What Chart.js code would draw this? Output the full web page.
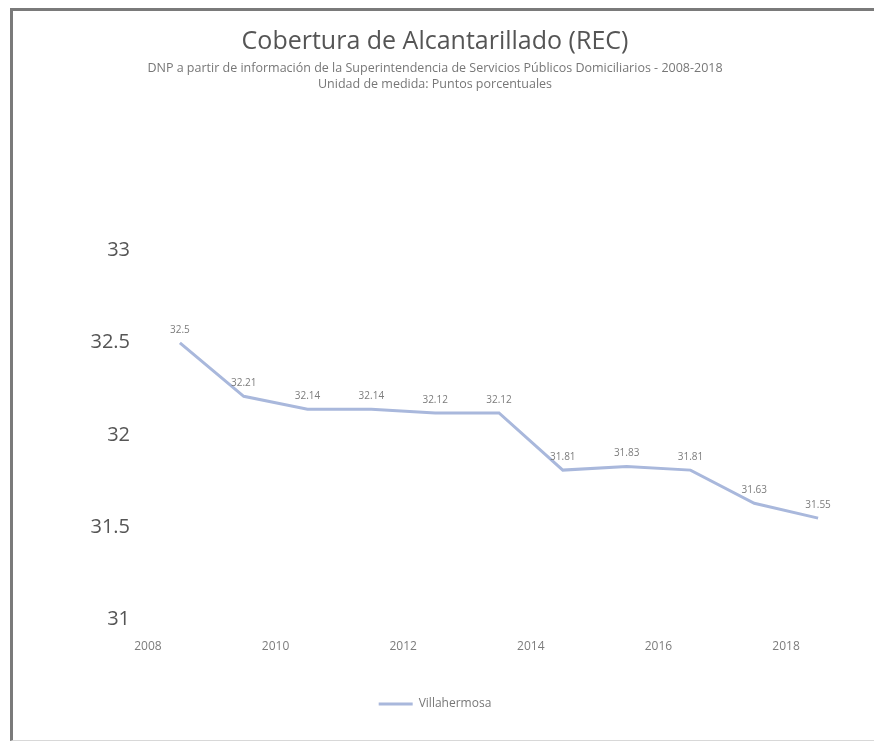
<!DOCTYPE html>
<html>
<head>
<meta charset="utf-8">
<script src="https://cdn.jsdelivr.net/npm/chart.js@4.4.1/dist/chart.umd.min.js"></script>
<style>
  html, body { margin: 0; padding: 0; background: #fff; }
  #wrap { position: relative; width: 874px; height: 747px; }
  #frame {
    position: absolute; left: 10px; top: 8px; right: -4px; bottom: 6px;
    border-left: 3px solid #7a7a7a; border-top: 3px solid #7a7a7a;
    border-bottom: 1px solid #d8d8d8; pointer-events: none;
  }
</style>
</head>
<body>
<div id="wrap">
  <canvas id="chart" width="874" height="747"></canvas>
  <div id="frame"></div>
</div>
<script>
// Cobertura de Alcantarillado (REC) — Villahermosa, 2008-2018
const years  = ['2008', '2009', '2010', '2011', '2012', '2013', '2014', '2015', '2016', '2017', '2018'];
const values = [32.5, 32.21, 32.14, 32.14, 32.12, 32.12, 31.81, 31.83, 31.81, 31.63, 31.55];
const yTicks = [31, 31.5, 32, 32.5, 33];

const FONT = '"Open Sans", "Noto Sans", sans-serif';

// value labels sitting just above each point of the line
const pointLabels = {
    id: 'pointLabels',
    afterDatasetsDraw(chart) {
        const ctx = chart.ctx;
        const meta = chart.getDatasetMeta(0);
        ctx.save();
        ctx.font = '10px ' + FONT;
        ctx.fillStyle = '#7c7c7c';
        ctx.textAlign = 'center';
        ctx.textBaseline = 'middle';
        meta.data.forEach((pt, i) => {
            ctx.fillText(String(values[i]), pt.x, pt.y - 13);
        });
        ctx.restore();
    },
};

new Chart(document.getElementById('chart'), {
    type: 'line',
    data: {
        labels: years,
        datasets: [{
            label: 'Villahermosa',
            data: values,
            borderColor: '#a9b8dc',
            backgroundColor: '#a9b8dc',
            borderWidth: 3,
            pointRadius: 0,
            tension: 0,
            fill: false,
        }],
    },
    options: {
        responsive: false,
        animation: false,
        layout: { padding: { left: 20, right: 24, bottom: 27 } },
        plugins: {
            title: {
                display: true,
                text: 'Cobertura de Alcantarillado (REC)',
                color: '#555',
                font: { family: FONT, size: 25, weight: 'normal' },
                padding: { top: 27, bottom: 3 },
            },
            subtitle: {
                display: true,
                text: [
                    'DNP a partir de información de la Superintendencia de Servicios Públicos Domiciliarios - 2008-2018',
                    'Unidad de medida: Puntos porcentuales',
                ],
                color: '#777',
                font: { family: FONT, size: 12.5, lineHeight: 1.3 },
                padding: { top: 0, bottom: 158 },
            },
            legend: {
                position: 'bottom',
                labels: {
                    color: '#777',
                    font: { family: FONT, size: 12 },
                    usePointStyle: true,
                    pointStyle: 'line',
                    pointStyleWidth: 34,
                    boxHeight: 12,
                    padding: 24,
                },
            },
            tooltip: { enabled: false },
        },
        scales: {
            x: {
                type: 'category',
                offset: true,
                grid: { display: false, drawTicks: false },
                border: { display: false },
                ticks: {
                    color: '#7c7c7c',
                    font: { family: FONT, size: 12 },
                    padding: 20,
                    maxRotation: 0,
                    autoSkip: false,
                    labelOffset: -32,
                    callback: (v, i) => (i % 2 === 0 ? years[i] : ''),
                },
            },
            y: {
                min: 31,
                max: 33,
                afterBuildTicks: axis => { axis.ticks = yTicks.map(v => ({ value: v })); },
                afterFit: axis => { axis.width = 128; },
                grid: { display: false, drawTicks: false },
                border: { display: false },
                ticks: {
                    color: '#555',
                    font: { family: FONT, size: 20 },
                    padding: 18,
                    callback: v => String(v),
                },
            },
        },
    },
    plugins: [pointLabels],
});
</script>
</body>
</html>
